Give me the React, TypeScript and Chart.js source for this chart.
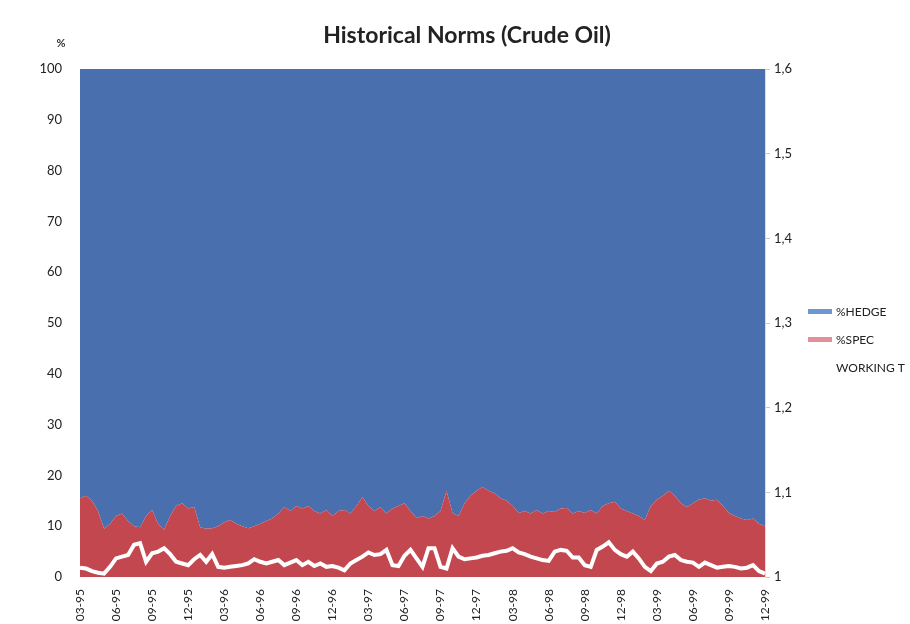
import React, { useEffect, useRef } from "react";
import { Chart, registerables } from "chart.js";

Chart.register(...registerables);

const quarterLabels = [
  "03-95", "06-95", "09-95", "12-95", "03-96", "06-96", "09-96", "12-96",
  "03-97", "06-97", "09-97", "12-97", "03-98", "06-98", "09-98", "12-98",
  "03-99", "06-99", "09-99", "12-99",
];
const pointsPerQuarter = 6;

const specValues = [
  15.5, 16, 15, 13, 9.5, 10.5, 12, 12.5, 11, 10, 9.8, 12, 13.2, 10.5, 9.3, 12, 14, 14.5, 13.5, 13.8,
  9.8, 9.5, 9.6, 10, 10.8, 11.2, 10.5, 10, 9.6, 10, 10.5, 11, 11.5, 12.5, 13.8, 13, 14, 13.5, 14, 13,
  12.5, 13.2, 12, 13, 13.2, 12.5, 14, 15.7, 14, 13, 13.8, 12.5, 13.5, 14, 14.5, 13, 11.6, 12, 11.5, 12,
  13, 17, 12.6, 12, 14.5, 16, 17, 17.7, 17, 16.5, 15.5, 15, 14, 12.6, 13, 12.5, 13.2, 12.5, 13, 12.8,
  13.5, 13.6, 12.5, 13, 12.6, 13.2, 12.5, 14, 14.5, 14.8, 13.5, 13, 12.5, 12, 11.2, 14, 15.2, 16, 17, 16,
  14.5, 13.8, 14.5, 15.2, 15.5, 15, 15.2, 14, 12.6, 12, 11.5, 11.2, 11.5, 10.5, 10,
];

const hedgeValues = [
  84.5, 84, 85, 87, 90.5, 89.5, 88, 87.5, 89, 90, 90.2, 88, 86.8, 89.5, 90.7, 88, 86, 85.5, 86.5, 86.2,
  90.2, 90.5, 90.4, 90, 89.2, 88.8, 89.5, 90, 90.4, 90, 89.5, 89, 88.5, 87.5, 86.2, 87, 86, 86.5, 86, 87,
  87.5, 86.8, 88, 87, 86.8, 87.5, 86, 84.3, 86, 87, 86.2, 87.5, 86.5, 86, 85.5, 87, 88.4, 88, 88.5, 88,
  87, 83, 87.4, 88, 85.5, 84, 83, 82.3, 83, 83.5, 84.5, 85, 86, 87.4, 87, 87.5, 86.8, 87.5, 87, 87.2,
  86.5, 86.4, 87.5, 87, 87.4, 86.8, 87.5, 86, 85.5, 85.2, 86.5, 87, 87.5, 88, 88.8, 86, 84.8, 84, 83, 84,
  85.5, 86.2, 85.5, 84.8, 84.5, 85, 84.8, 86, 87.4, 88, 88.5, 88.8, 88.5, 89.5, 90,
];

const workingT = [
  1.011, 1.010, 1.007, 1.005, 1.004, 1.012, 1.022, 1.024, 1.026, 1.038, 1.040, 1.018, 1.028, 1.030, 1.034, 1.027, 1.018, 1.016, 1.014, 1.021,
  1.026, 1.018, 1.027, 1.012, 1.011, 1.012, 1.013, 1.014, 1.016, 1.021, 1.018, 1.016, 1.018, 1.020, 1.014, 1.017, 1.020, 1.014, 1.018, 1.013,
  1.016, 1.012, 1.013, 1.011, 1.008, 1.016, 1.020, 1.024, 1.029, 1.026, 1.027, 1.032, 1.014, 1.013, 1.025, 1.032, 1.022, 1.012, 1.034, 1.034,
  1.012, 1.010, 1.034, 1.024, 1.021, 1.022, 1.023, 1.025, 1.026, 1.028, 1.030, 1.031, 1.034, 1.029, 1.027, 1.024, 1.022, 1.020, 1.019, 1.030,
  1.032, 1.031, 1.023, 1.023, 1.014, 1.012, 1.032, 1.036, 1.041, 1.032, 1.027, 1.024, 1.030, 1.022, 1.012, 1.007, 1.016, 1.018, 1.024, 1.026,
  1.020, 1.018, 1.017, 1.012, 1.017, 1.014, 1.011, 1.012, 1.013, 1.012, 1.010, 1.011, 1.014, 1.007, 1.004,
];

const periods: string[] = specValues.map((_, i) =>
  i % pointsPerQuarter === 0 ? quarterLabels[i / pointsPerQuarter] : ""
);

const TITLE = "Historical Norms (Crude Oil)";
const FONT = "Lato, 'Noto Sans', sans-serif";

const overlayPlugin = {
  id: "overlay",
  afterDraw(chart: any) {
    const ctx = chart.ctx as CanvasRenderingContext2D;
    ctx.save();
    ctx.fillStyle = "#222";
    ctx.font = `bold 23px ${FONT}`;
    ctx.textAlign = "center";
    ctx.textBaseline = "middle";
    ctx.fillText(TITLE, 467, 36);
    ctx.font = `bold 11px ${FONT}`;
    ctx.fillStyle = "#333";
    ctx.fillText("%", 61, 43);
    const items = [
      { label: "%HEDGE", color: "#6f97d2" },
      { label: "%SPEC", color: "#e3909a" },
      { label: "WORKING T", color: "#ffffff" },
    ];
    ctx.textAlign = "left";
    ctx.font = `12px ${FONT}`;
    items.forEach((it, k) => {
      const y = 311 + k * 28;
      ctx.fillStyle = it.color;
      ctx.fillRect(808, y - 2, 24, 5);
      ctx.fillStyle = "#222";
      ctx.fillText(it.label, 836, y + 1);
    });
    ctx.restore();
  },
};

export default function App() {
  const canvasRef = useRef<HTMLCanvasElement | null>(null);

  useEffect(() => {
    document.body.style.margin = "0";
    const canvas = canvasRef.current;
    if (!canvas) return;
    const chart = new Chart(canvas, {
      type: "line",
      data: {
        labels: periods,
        datasets: [
          {
            label: "%SPEC",
            data: specValues,
            backgroundColor: "#c3474f",
            borderColor: "#c3474f",
            borderWidth: 0,
            pointRadius: 0,
            fill: "origin",
            yAxisID: "y",
            order: 1,
            tension: 0,
          },
          {
            label: "%HEDGE",
            data: hedgeValues,
            backgroundColor: "#4a6fae",
            borderColor: "#4a6fae",
            borderWidth: 0,
            pointRadius: 0,
            fill: "-1",
            yAxisID: "y",
            order: 1,
            tension: 0,
          },
          {
            label: "WORKING T",
            data: workingT,
            borderColor: "#ffffff",
            backgroundColor: "#ffffff",
            borderWidth: 4,
            pointRadius: 0,
            fill: false,
            yAxisID: "y1",
            order: 0,
            tension: 0,
          },
        ],
      },
      options: {
        animation: false,
        responsive: false,
        maintainAspectRatio: false,
        layout: { padding: { top: 69, right: 105, left: 0, bottom: 0 } },
        plugins: {
          legend: { display: false },
          title: { display: false },
          tooltip: { enabled: false },
        },
        scales: {
          x: {
            grid: { display: false },
            border: { display: false },
            ticks: {
              autoSkip: false,
              maxRotation: 90,
              minRotation: 90,
              color: "#222",
              font: { family: FONT, size: 12 },
              padding: 4,
            },
            afterFit: (s: any) => {
              s.height = 47;
            },
          },
          y: {
            stacked: true,
            min: 0,
            max: 100,
            ticks: {
              stepSize: 10,
              color: "#222",
              font: { family: FONT, size: 13 },
              padding: 10,
            },
            grid: { display: false },
            border: { display: false },
            afterFit: (s: any) => {
              s.width = 80;
            },
          },
          y1: {
            position: "right",
            stacked: false,
            min: 1,
            max: 1.6,
            ticks: {
              stepSize: 0.1,
              color: "#222",
              font: { family: FONT, size: 13 },
              padding: 4,
              callback: (v: any) => {
                const n = Number(v);
                if (Math.abs(n - 1) < 1e-9) return "1";
                return n.toFixed(1).replace(".", ",");
              },
            },
            grid: {
              drawOnChartArea: false,
              drawTicks: true,
              tickLength: 5,
              color: "#c8c8c8",
            },
            border: { display: true, color: "#dddddd" },
            afterFit: (s: any) => {
              s.width = 40;
            },
          },
        },
      },
      plugins: [overlayPlugin],
    });
    return () => chart.destroy();
  }, []);

  return (
    <div style={{ width: 910, height: 624, background: "#fff" }}>
      <canvas ref={canvasRef} width={910} height={624} style={{ display: "block" }} />
    </div>
  );
}
